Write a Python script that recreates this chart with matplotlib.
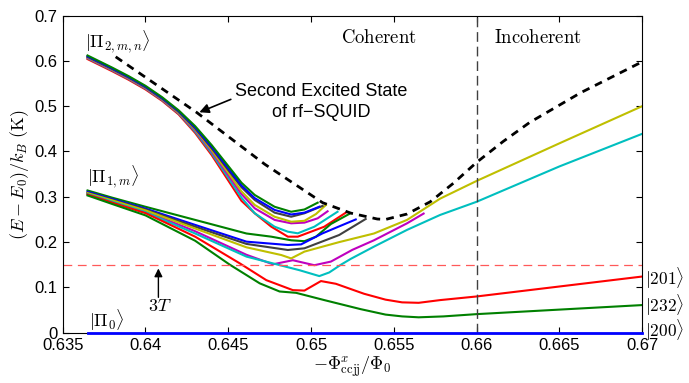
import numpy as np
import matplotlib.pyplot as plt

plt.rcParams['font.family'] = ['Liberation Sans', 'DejaVu Sans']
plt.rcParams['mathtext.fontset'] = 'cm'

# MATLAB-ish colour order
cb = (0, 0, 1)
cg = (0, 0.5, 0)
cr = (1, 0, 0)
cc = (0, 0.75, 0.75)
cm = (0.75, 0, 0.75)
cy = (0.75, 0.75, 0)
ck = (0.25, 0.25, 0.25)

# second excited manifold |Pi_2,m,n>
xt = [0.6365, 0.638, 0.639, 0.640, 0.641, 0.642, 0.643, 0.644, 0.645, 0.6458, 0.6466]
u_green_x = xt + [0.6478, 0.6488, 0.6496, 0.6504]
u_green_y = [0.612, 0.585, 0.566, 0.545, 0.520, 0.491, 0.456, 0.414, 0.368, 0.331, 0.304,
             0.278, 0.267, 0.272, 0.287]
u_blue_x = xt + [0.6478, 0.6488, 0.6496, 0.6505]
u_blue_y = [0.610, 0.583, 0.564, 0.543, 0.518, 0.489, 0.453, 0.410, 0.363, 0.325, 0.297,
            0.271, 0.261, 0.265, 0.278]
u_gray_x = xt + [0.6478, 0.6488, 0.6496, 0.6507]
u_gray_y = [0.609, 0.582, 0.563, 0.542, 0.517, 0.488, 0.451, 0.407, 0.359, 0.321, 0.293,
            0.265, 0.256, 0.2636, 0.280]
u_yel_x = xt + [0.6478, 0.6488, 0.6496, 0.6503, 0.6509]
u_yel_y = [0.608, 0.581, 0.562, 0.541, 0.516, 0.486, 0.449, 0.403, 0.353, 0.312, 0.282,
           0.256, 0.245, 0.247, 0.262, 0.282]
u_mag_x = xt + [0.6478, 0.6488, 0.6496, 0.6504, 0.6510]
u_mag_y = [0.607, 0.580, 0.561, 0.540, 0.515, 0.485, 0.447, 0.400, 0.348, 0.306, 0.2746,
           0.249, 0.2415, 0.243, 0.2525, 0.268]
u_cyan_x = xt + [0.6478, 0.6486, 0.6492, 0.6502, 0.6516]
u_cyan_y = [0.606, 0.579, 0.560, 0.539, 0.514, 0.484, 0.444, 0.396, 0.342, 0.298, 0.2636,
            0.234, 0.223, 0.2194, 0.234, 0.267]
u_red_x = xt + [0.6476, 0.6486, 0.6492, 0.6500, 0.6508, 0.6521]
u_red_y = [0.604, 0.577, 0.558, 0.537, 0.512, 0.482, 0.441, 0.392, 0.336, 0.291, 0.2636,
           0.234, 0.212, 0.212, 0.223, 0.234, 0.265]

# first excited manifold |Pi_1,m>
xm = [0.6365, 0.638, 0.640, 0.643, 0.6461]
m_green_x = xm + [0.6476, 0.6488, 0.6496, 0.6503, 0.6512, 0.6523]
m_green_y = [0.314, 0.298, 0.278, 0.249, 0.219, 0.212, 0.204, 0.202, 0.212, 0.240, 0.262]
m_blue_x = xm + [0.6486, 0.6494, 0.6507, 0.6527]
m_blue_y = [0.311, 0.295, 0.274, 0.238, 0.201, 0.1936, 0.195, 0.2194, 0.250]
m_gray_x = xm + [0.6486, 0.6496, 0.6517, 0.6533]
m_gray_y = [0.309, 0.293, 0.272, 0.234, 0.196, 0.1826, 0.1863, 0.2157, 0.251]
m_yel_x = xm + [0.6482, 0.6488, 0.6496, 0.6517, 0.6538, 0.6558, 0.6578, 0.660, 0.665, 0.670]
m_yel_y = [0.308, 0.292, 0.270, 0.230, 0.1885, 0.1715, 0.164, 0.179, 0.200, 0.219, 0.249, 0.296,
           0.335, 0.418, 0.500]
m_mag_x = xm + [0.6477, 0.6489, 0.6502, 0.6512, 0.6525, 0.6538, 0.6558, 0.6568]
m_mag_y = [0.307, 0.290, 0.268, 0.224, 0.172, 0.151, 0.160, 0.149, 0.157, 0.183, 0.204, 0.2415, 0.263]
m_cyan_x = xm + [0.6477, 0.6493, 0.6505, 0.6511, 0.6518, 0.6524, 0.6538, 0.6558, 0.6578, 0.660,
                 0.665, 0.670]
m_cyan_y = [0.306, 0.289, 0.266, 0.219, 0.168, 0.153, 0.138, 0.125, 0.133, 0.150, 0.163, 0.190,
            0.227, 0.260, 0.289, 0.367, 0.439]
m_red_x = [0.6365, 0.638, 0.640, 0.643, 0.6457, 0.6473, 0.6489, 0.6496, 0.6506, 0.6515, 0.6532,
           0.6545, 0.6555, 0.6565, 0.6578, 0.660, 0.665, 0.670]
m_red_y = [0.305, 0.287, 0.264, 0.212, 0.153, 0.116, 0.094, 0.093, 0.114, 0.108, 0.086,
           0.073, 0.067, 0.066, 0.072, 0.080, 0.102, 0.124]
m_green2_x = [0.6365, 0.638, 0.640, 0.643, 0.6451, 0.6469, 0.6481, 0.6491, 0.6508, 0.6530,
              0.6545, 0.6555, 0.6565, 0.658, 0.660, 0.665, 0.670]
m_green2_y = [0.303, 0.284, 0.259, 0.203, 0.150, 0.109, 0.091, 0.088, 0.072, 0.052,
              0.040, 0.036, 0.034, 0.036, 0.041, 0.051, 0.061]

ground_x = [0.6365, 0.670]
ground_y = [0.0, 0.0]

# second excited state of the rf-SQUID alone
sq_x = [0.6382, 0.6431, 0.6472, 0.6507, 0.6524, 0.6540, 0.6545, 0.6558, 0.6572, 0.6586, 0.660,
        0.6616, 0.6632, 0.6663, 0.670]
sq_y = [0.609, 0.486, 0.372, 0.287, 0.264, 0.251, 0.250, 0.262, 0.289, 0.330, 0.376,
        0.422, 0.464, 0.530, 0.598]

three_T = 0.15
x_split = 0.66

right_labels = [r'$|201\rangle$', r'$|232\rangle$', r'$|200\rangle$']
right_label_y = [0.121, 0.060, 0.006]

fig = plt.figure(figsize=(6.89, 3.83), dpi=100)
ax = fig.add_axes([0.091, 0.1313, 0.841, 0.828])

lw = 1.5
upper = [(u_green_x, u_green_y, cg), (u_blue_x, u_blue_y, cb), (u_gray_x, u_gray_y, ck),
         (u_yel_x, u_yel_y, cy), (u_mag_x, u_mag_y, cm), (u_cyan_x, u_cyan_y, cc),
         (u_red_x, u_red_y, cr)]
middle = [(m_mag_x, m_mag_y, cm), (m_green_x, m_green_y, cg), (m_blue_x, m_blue_y, cb),
          (m_gray_x, m_gray_y, ck), (m_yel_x, m_yel_y, cy), (m_cyan_x, m_cyan_y, cc),
          (m_red_x, m_red_y, cr), (m_green2_x, m_green2_y, cg)]
for xs, ys, c in upper[::-1]:
    ax.plot(xs, ys, color=c, lw=lw)
for xs, ys, c in middle:
    ax.plot(xs, ys, color=c, lw=lw)
ax.plot(ground_x, ground_y, color=cb, lw=2, clip_on=False, zorder=5)

ax.plot(sq_x, sq_y, color='k', lw=2, dashes=(2.8, 2.2))
ax.axhline(three_T, color=(1, 0.35, 0.35), lw=0.9, dashes=(7, 4.5))
ax.axvline(x_split, color=ck, lw=1, dashes=(7, 3.5))

ax.set_xlim(0.635, 0.67)
ax.set_ylim(0, 0.7)
ax.set_xticks([0.635, 0.64, 0.645, 0.65, 0.655, 0.66, 0.665, 0.67])
ax.set_xticklabels(['0.635', '0.64', '0.645', '0.65', '0.655', '0.66', '0.665', '0.67'])
ax.set_yticks([0, 0.1, 0.2, 0.3, 0.4, 0.5, 0.6, 0.7])
ax.set_yticklabels(['0', '0.1', '0.2', '0.3', '0.4', '0.5', '0.6', '0.7'])
ax.tick_params(direction='in', length=4, top=True, right=True, labelsize=12, pad=4)
for s in ax.spines.values():
    s.set_linewidth(0.8)

ax.set_xlabel(r'$-\Phi^x_{\mathrm{ccjj}}/\Phi_0$', fontsize=13, labelpad=1)
ax.set_ylabel(r'$(E-E_0)/k_B\ (\mathrm{K})$', fontsize=13, labelpad=2)

ax.text(0.63635, 0.64, r'$|\Pi_{2,m,n}\rangle$', fontsize=13, va='center')
ax.text(0.63645, 0.342, r'$|\Pi_{1,m}\rangle$', fontsize=13, va='center')
ax.text(0.6366, 0.028, r'$|\Pi_0\rangle$', fontsize=13, va='center')
ax.text(0.6541, 0.651, r'$\mathrm{Coherent}$', fontsize=13.5, ha='center', va='center')
ax.text(0.6637, 0.651, r'$\mathrm{Incoherent}$', fontsize=13.5, ha='center', va='center')
ax.text(0.65063, 0.509, 'Second Excited State\nof rf\u2212SQUID', fontsize=13, ha='center',
        va='center', linespacing=1.25)
ax.annotate('', xy=(0.6431, 0.4843), xytext=(0.64531, 0.5174),
            arrowprops=dict(arrowstyle='-|>', color='k', lw=1.2, mutation_scale=14))
ax.annotate('', xy=(0.64078, 0.148), xytext=(0.64078, 0.072),
            arrowprops=dict(arrowstyle='-|>', color='k', lw=1, mutation_scale=12))
ax.text(0.64088, 0.058, r'$3T$', fontsize=13, ha='center', va='center')

for lab, yv in zip(right_labels, right_label_y):
    ax.text(0.6702, yv, lab, fontsize=12.5, va='center', clip_on=False)

fig.savefig('out.png', dpi=100)
